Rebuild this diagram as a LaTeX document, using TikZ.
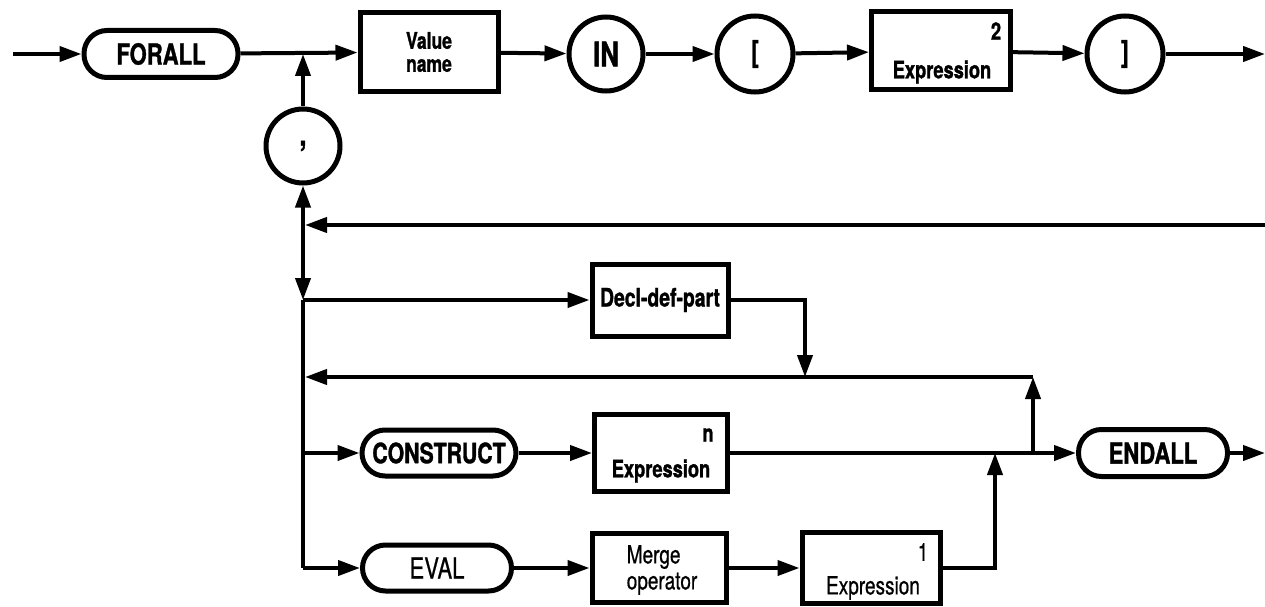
\documentclass[tikz,border=0pt]{standalone}
\usepackage{fontspec}
\setmainfont{TeX Gyre Heros}
\newfontfamily\hv{TeX Gyre Heros}[FakeStretch=0.76,UprightFeatures={FakeBold=0.6},BoldFeatures={FakeBold=1.2}]
\usetikzlibrary{arrows.meta}
\begin{document}
\begin{tikzpicture}[x=1pt,y=-1pt,
  ln/.style={line width=4pt},
  ar/.style={line width=4pt,-{Triangle[length=22pt,width=15pt]}},
  term/.style={draw,line width=5pt,rounded corners=23pt,inner sep=0pt,minimum height=47pt},
  nt/.style={draw,line width=5pt,inner sep=0pt},
  circ/.style={draw,circle,line width=5pt,inner sep=0pt,minimum size=76pt},
  bt/.style={font=\hv\bfseries\fontsize{#1}{#1}\selectfont,inner sep=0pt},
  rt/.style={font=\hv\fontsize{#1}{#1}\selectfont,inner sep=0pt}
]
\useasboundingbox (0,0) rectangle (1265,607);

% top row
\node[term,minimum width=154pt,bt=29] (forall) at (161,54) {FORALL};
\node[nt,minimum width=138pt,minimum height=79pt,align=center,font=\hv\bfseries\fontsize{23}{23}\selectfont] (value) at (429,52) {Value\\name};
\node[circ,minimum size=74pt,bt=34] (in) at (606,54) {IN};
\node[circ,bt=30] (lb) at (755,54) {[};
\node[nt,minimum width=139pt,minimum height=78pt] (expr2) at (941,51) {};
\node[bt=24] (expr2n) at (996,31) {2};
\node[bt=24] (expr2t) at (942,72) {Expression};
\node[circ,bt=30] (rb) at (1125,54) {]};
\node[circ,minimum size=74pt,bt=32] (comma) at (303,146) {,};

% middle
\node[nt,minimum width=136pt,minimum height=72pt,bt=25.5] (decl) at (660,300) {Decl-def-part};

% construct row
\node[term,minimum width=154pt,minimum height=46pt,bt=28] (construct) at (439,453) {CONSTRUCT};
\node[nt,minimum width=133pt,minimum height=77pt] (exprn) at (661,453) {};
\node[bt=24] (exprnn) at (708,435) {n};
\node[bt=24] (exprnt) at (661,471) {Expression};
\node[term,minimum width=149pt,bt=29] (endall) at (1153,453) {ENDALL};

% eval row
\node[term,minimum width=149pt,minimum height=46pt,rt=29] (eval) at (437,568) {EVAL};
\node[nt,minimum width=134pt,minimum height=69pt] (merge) at (659,568) {};
\node[align=left,inner sep=0pt,font=\hv\fontsize{25}{26}\selectfont] (merget) at (662,570) {Merge\\operator};
\node[nt,minimum width=138pt,minimum height=71pt] (expr1) at (871,568) {};
\node[rt=25] (expr1n) at (923,552) {1};
\node[rt=25] (expr1t) at (873,588) {Expression};

% coordinates
\coordinate (start) at (13,54);
\coordinate (j1) at (303,54);
\coordinate (exit1) at (1265,54);
\coordinate (r1e) at (1265,225);
\coordinate (r1w) at (303,225);
\coordinate (b1) at (303,300);
\coordinate (b3) at (303,453);
\coordinate (b4) at (303,568);
\coordinate (d2) at (805,377);
\coordinate (r2e) at (1033,377);
\coordinate (r2w) at (303,377);
\coordinate (u2) at (1033,453);
\coordinate (u1) at (995,453);
\coordinate (exit2) at (1265,453);

% top connectors
\draw[ar] (start) -- (forall);
\draw[ar] (forall) -- (value);
\draw[ar] (value) -- (in);
\draw[ar] (in) -- (lb);
\draw[ar] (lb) -- (expr2);
\draw[ar] (expr2) -- (rb);
\draw[ar] (rb) -- (exit1);
\draw[ar] (comma) -- (j1);

% return and branches
\draw[ar,shorten >=2pt] (r1e) -- (r1w);
\draw[ar] (r1w) -- (comma);
\draw[ar] (r1w) -- (b1);
\draw[ln] (b1) -- (b4);
\draw[ar] (b1) -- (decl);
\draw[ar] (decl) -| (d2);
\draw[ar,shorten >=2pt] (r2e) -- (r2w);
\draw[ar] (u2) -- (r2e);
\draw[ar] (b3) -- (construct);
\draw[ar] (b4) -- (eval);

% lower connectors
\draw[ar] (construct) -- (exprn);
\draw[ar] (exprn) -- (endall);
\draw[ar] (endall) -- (exit2);
\draw[ar] (eval) -- (merge);
\draw[ar] (merge) -- (expr1);
\draw[ar] (expr1) -| (u1);
\end{tikzpicture}
\end{document}
